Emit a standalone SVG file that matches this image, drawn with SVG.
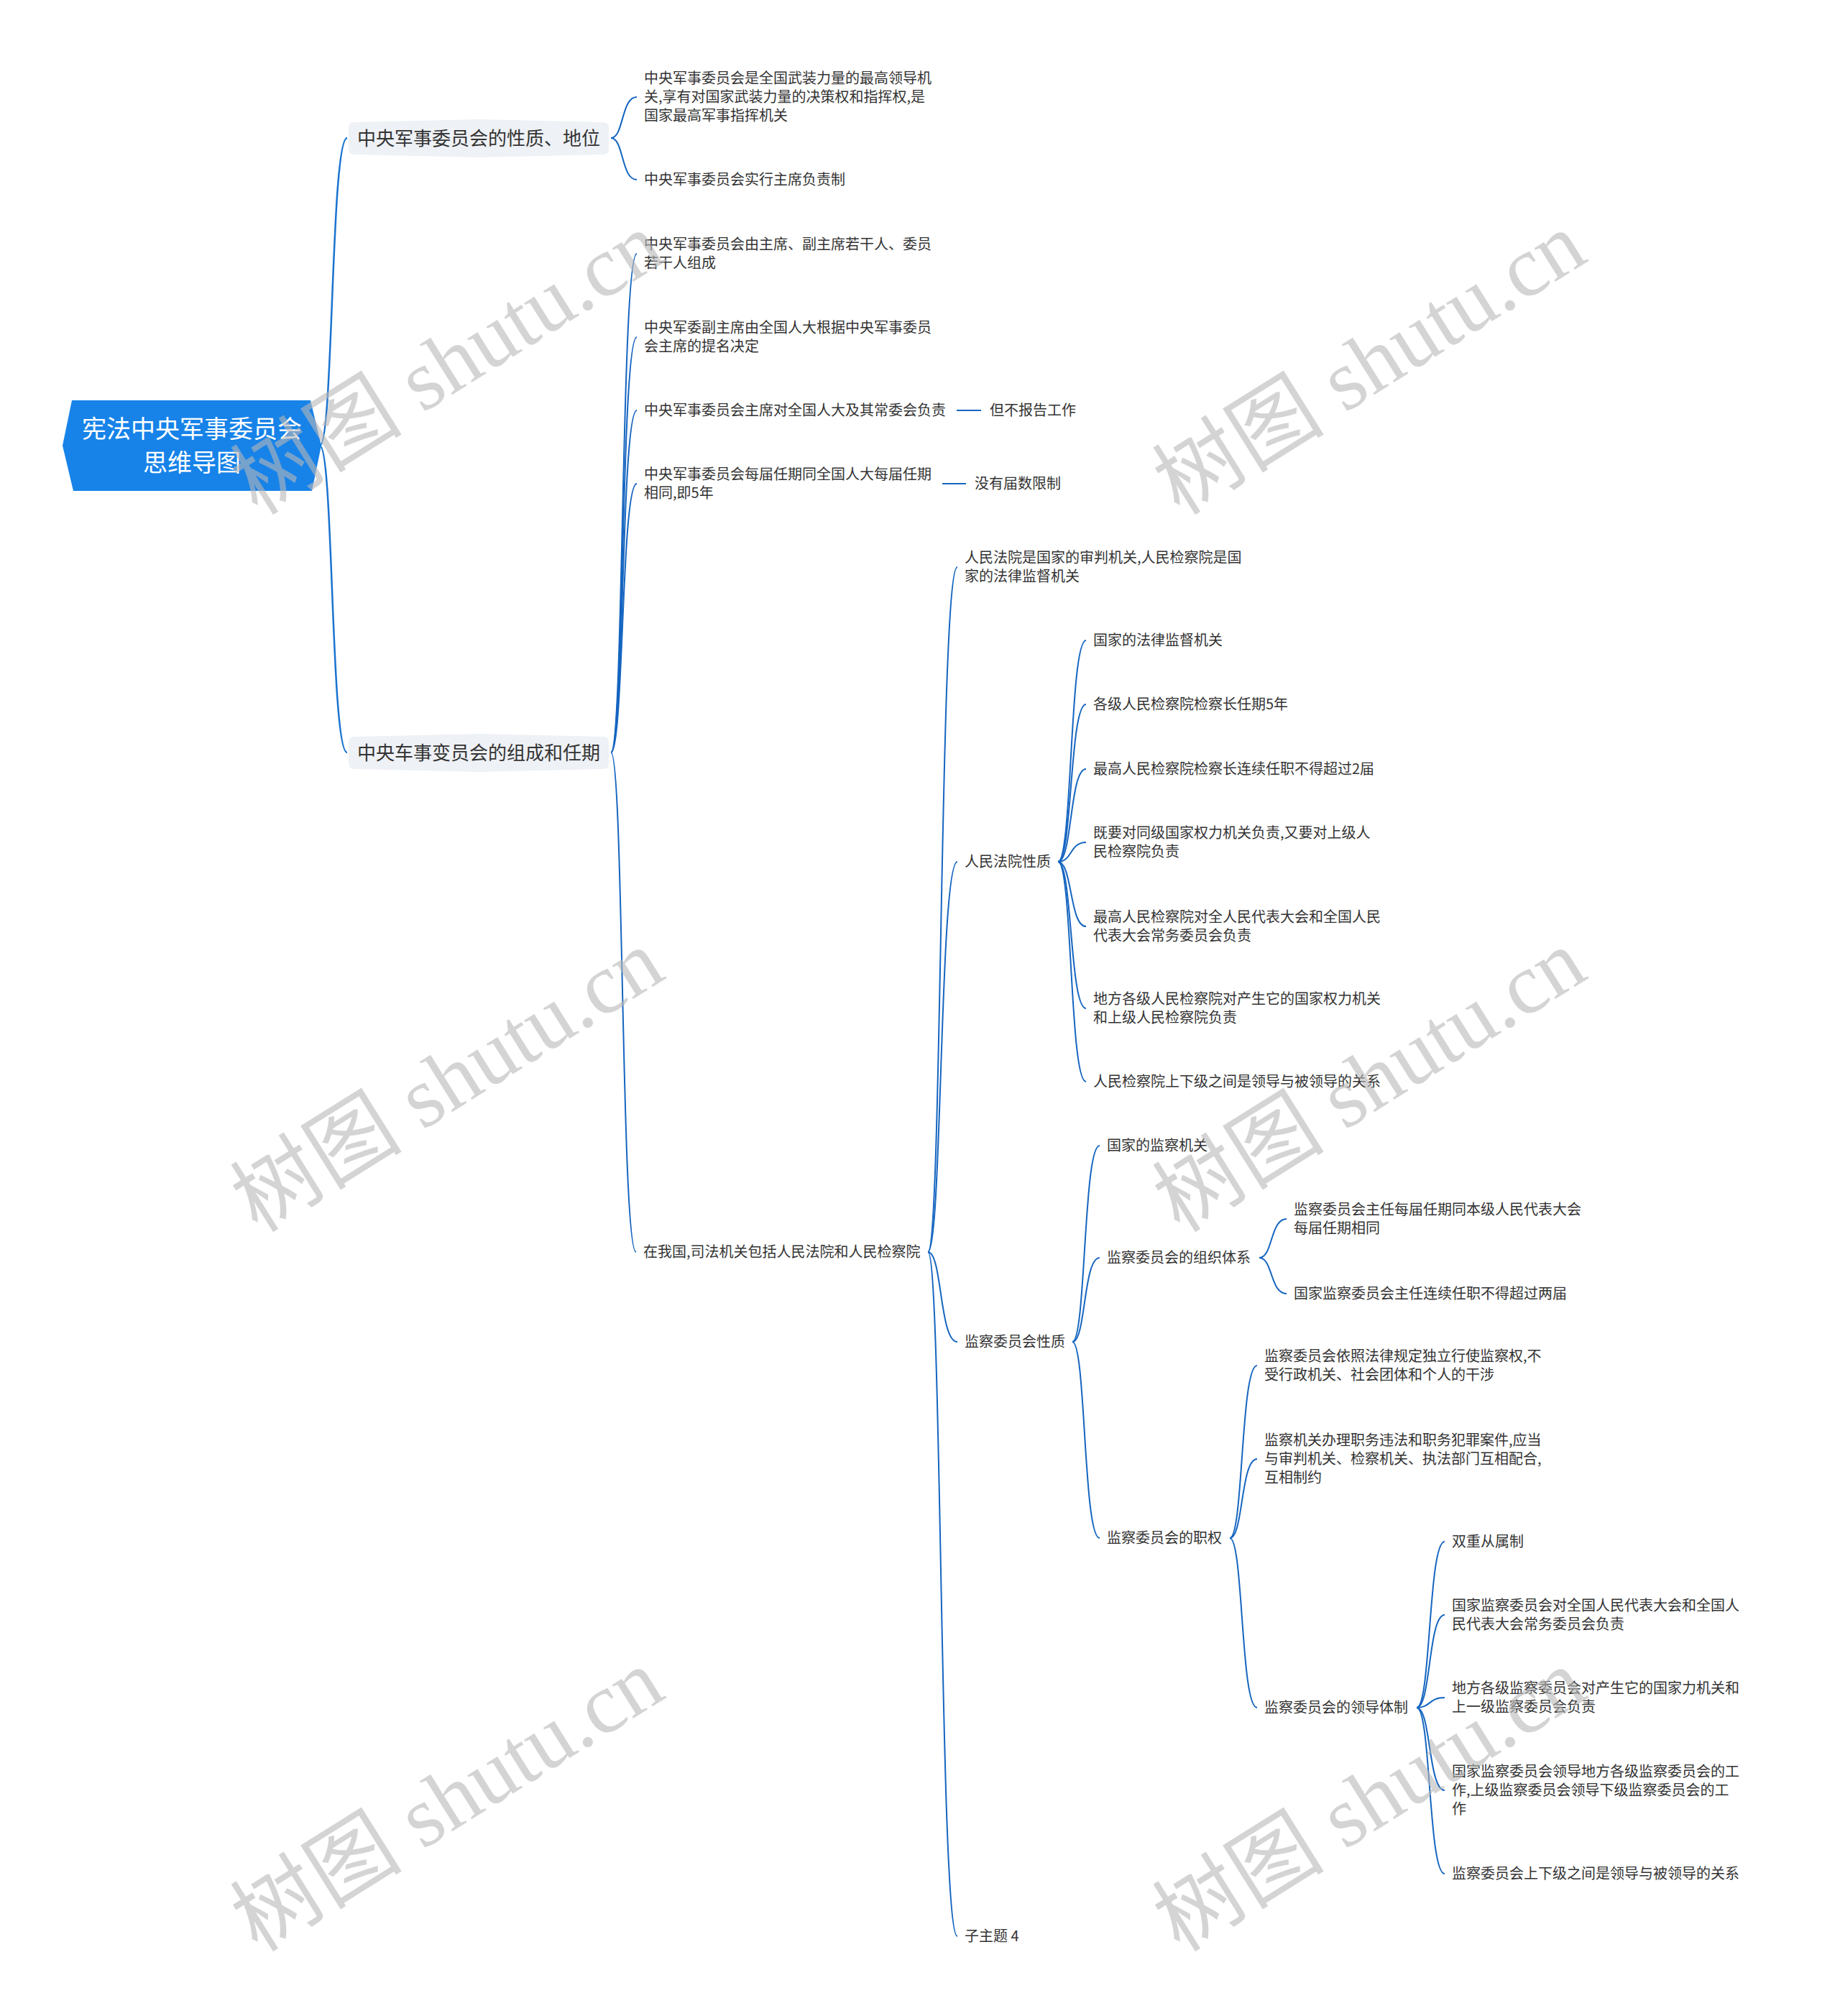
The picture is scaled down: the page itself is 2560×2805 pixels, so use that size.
<svg xmlns="http://www.w3.org/2000/svg" width="2560" height="2805" viewBox="0 0 2560 2805">
<style>
.t{font-family:"Noto Sans CJK SC","Liberation Sans",sans-serif;font-size:20px;fill:#333}
.l1{font-family:"Noto Sans CJK SC","Liberation Sans",sans-serif;font-size:26px;fill:#333}
.rt{font-family:"Noto Sans CJK SC","Liberation Sans",sans-serif;font-size:34px;fill:#fff}
.c{fill:none;stroke:#1565c0;stroke-width:2}
.cr{fill:none;stroke:#1a73d0;stroke-width:2.5}
.wm{font-family:"Liberation Serif","Noto Sans CJK SC",serif;font-size:120px;fill:#b8b8b8;fill-opacity:0.6}
.nb{fill:#eef1f5}
</style>
<rect width="2560" height="2805" fill="#fff"/>
<g id="connectors">
<path class="cr" d="M445 620 C464 620 460 192 483 192"/>
<path class="cr" d="M445 620 C464 620 460 1047 483 1047"/>
<path class="c" d="M850 192 C868 192 864 135 886 135"/>
<path class="c" d="M850 192 C868 192 864 250 886 250"/>
<path class="c" d="M850 1047 C868 1047 864 353 886 353"/>
<path class="c" d="M850 1047 C868 1047 864 469 886 469"/>
<path class="c" d="M850 1047 C868 1047 864 571 886 571"/>
<path class="c" d="M850 1047 C868 1047 864 673 886 673"/>
<path class="c" d="M850 1047 C868 1047 864 1742 885 1742"/>
<path class="c" d="M1331 571 L1365 571"/>
<path class="c" d="M1311 673 L1344 673"/>
<path class="c" d="M1291 1742 C1311 1742 1307 789 1332 789"/>
<path class="c" d="M1291 1742 C1311 1742 1307 1199 1332 1199"/>
<path class="c" d="M1291 1742 C1311 1742 1307 1867 1332 1867"/>
<path class="c" d="M1291 1742 C1311 1742 1307 2694 1332 2694"/>
<path class="c" d="M1472 1199 C1492 1199 1488 891 1511 891"/>
<path class="c" d="M1472 1199 C1492 1199 1488 980 1511 980"/>
<path class="c" d="M1472 1199 C1492 1199 1488 1070 1511 1070"/>
<path class="c" d="M1472 1199 C1492 1199 1488 1172 1511 1172"/>
<path class="c" d="M1472 1199 C1492 1199 1488 1289 1511 1289"/>
<path class="c" d="M1472 1199 C1492 1199 1488 1403 1511 1403"/>
<path class="c" d="M1472 1199 C1492 1199 1488 1505 1511 1505"/>
<path class="c" d="M1492 1867 C1511 1867 1507 1594 1530 1594"/>
<path class="c" d="M1492 1867 C1511 1867 1507 1750 1530 1750"/>
<path class="c" d="M1492 1867 C1511 1867 1507 2140 1530 2140"/>
<path class="c" d="M1752 1750 C1771 1750 1767 1696 1790 1696"/>
<path class="c" d="M1752 1750 C1771 1750 1767 1800 1790 1800"/>
<path class="c" d="M1711 2140 C1730 2140 1726 1900 1749 1900"/>
<path class="c" d="M1711 2140 C1730 2140 1726 2030 1749 2030"/>
<path class="c" d="M1711 2140 C1730 2140 1726 2376 1749 2376"/>
<path class="c" d="M1971 2376 C1991 2376 1987 2145 2010 2145"/>
<path class="c" d="M1971 2376 C1991 2376 1987 2247 2010 2247"/>
<path class="c" d="M1971 2376 C1991 2376 1987 2362 2010 2362"/>
<path class="c" d="M1971 2376 C1991 2376 1987 2491 2010 2491"/>
<path class="c" d="M1971 2376 C1991 2376 1987 2607 2010 2607"/>
</g>
<g id="root">
<polygon points="100,557 432,557 447,620 434,683 102,683 87,620" fill="#1783e9"/>
<text class="rt" x="267" y="609" text-anchor="middle">宪法中央军事委员会</text>
<text class="rt" x="267" y="656" text-anchor="middle">思维导图</text>
</g>
<g id="n1">
<path class="nb" d="M493 170 L666 166 L839 170 Q847 170 847 178 L847 207 Q847 215 839 215 L666 219 L493 215 Q485 215 485 207 L485 178 Q485 170 493 170 Z"/>
<text class="l1" x="497" y="202">中央军事委员会的性质、地位</text>
</g>
<g id="n2">
<path class="nb" d="M493 1025 L666 1021 L839 1025 Q847 1025 847 1033 L847 1062 Q847 1070 839 1070 L666 1074 L493 1070 Q485 1070 485 1062 L485 1033 Q485 1025 493 1025 Z"/>
<text class="l1" x="497" y="1057">中央车事变员会的组成和任期</text>
</g>
<g id="a1"><text class="t" x="896" y="116">中央军事委员会是全国武装力量的最高领导机<tspan x="896" dy="26">关,享有对国家武装力量的决策权和指挥权,是</tspan><tspan x="896" dy="26">国家最高军事指挥机关</tspan></text></g>
<g id="a2"><text class="t" x="896" y="257">中央军事委员会实行主席负责制</text></g>
<g id="b1"><text class="t" x="896" y="347">中央军事委员会由主席、副主席若干人、委员<tspan x="896" dy="26">若干人组成</tspan></text></g>
<g id="b2"><text class="t" x="896" y="463">中央军委副主席由全国人大根据中央军事委员<tspan x="896" dy="26">会主席的提名决定</tspan></text></g>
<g id="b3"><text class="t" x="896" y="578">中央军事委员会主席对全国人大及其常委会负责</text></g>
<g id="b3a"><text class="t" x="1377" y="578">但不报告工作</text></g>
<g id="b4"><text class="t" x="896" y="667">中央军事委员会每届任期同全国人大每届任期<tspan x="896" dy="26">相同,即5年</tspan></text></g>
<g id="b4a"><text class="t" x="1356" y="680">没有届数限制</text></g>
<g id="c"><text class="t" x="895" y="1749">在我国,司法机关包括人民法院和人民检察院</text></g>
<g id="d1"><text class="t" x="1342" y="783">人民法院是国家的审判机关,人民检察院是国<tspan x="1342" dy="26">家的法律监督机关</tspan></text></g>
<g id="d2"><text class="t" x="1342" y="1206">人民法院性质</text></g>
<g id="d3"><text class="t" x="1342" y="1874">监察委员会性质</text></g>
<g id="d4"><text class="t" x="1342" y="2701">子主题 4</text></g>
<g id="e1"><text class="t" x="1521" y="898">国家的法律监督机关</text></g>
<g id="e2"><text class="t" x="1521" y="987">各级人民检察院检察长任期5年</text></g>
<g id="e3"><text class="t" x="1521" y="1077">最高人民检察院检察长连续任职不得超过2届</text></g>
<g id="e4"><text class="t" x="1521" y="1166">既要对同级国家权力机关负责,又要对上级人<tspan x="1521" dy="26">民检察院负责</tspan></text></g>
<g id="e5"><text class="t" x="1521" y="1283">最高人民检察院对全人民代表大会和全国人民<tspan x="1521" dy="26">代表大会常务委员会负责</tspan></text></g>
<g id="e6"><text class="t" x="1521" y="1397">地方各级人民检察院对产生它的国家权力机关<tspan x="1521" dy="26">和上级人民检察院负责</tspan></text></g>
<g id="e7"><text class="t" x="1521" y="1512">人民检察院上下级之间是领导与被领导的关系</text></g>
<g id="f1"><text class="t" x="1540" y="1601">国家的监察机关</text></g>
<g id="f2"><text class="t" x="1540" y="1757">监察委员会的组织体系</text></g>
<g id="f3"><text class="t" x="1540" y="2147">监察委员会的职权</text></g>
<g id="g1"><text class="t" x="1800" y="1690">监察委员会主任每届任期同本级人民代表大会<tspan x="1800" dy="26">每届任期相同</tspan></text></g>
<g id="g2"><text class="t" x="1800" y="1807">国家监察委员会主任连续任职不得超过两届</text></g>
<g id="h1"><text class="t" x="1759" y="1894">监察委员会依照法律规定独立行使监察权,不<tspan x="1759" dy="26">受行政机关、社会团体和个人的干涉</tspan></text></g>
<g id="h2"><text class="t" x="1759" y="2011">监察机关办理职务违法和职务犯罪案件,应当<tspan x="1759" dy="26">与审判机关、检察机关、执法部门互相配合,</tspan><tspan x="1759" dy="26">互相制约</tspan></text></g>
<g id="h3"><text class="t" x="1759" y="2383">监察委员会的领导体制</text></g>
<g id="i1"><text class="t" x="2020" y="2152">双重从属制</text></g>
<g id="i2"><text class="t" x="2020" y="2241">国家监察委员会对全国人民代表大会和全国人<tspan x="2020" dy="26">民代表大会常务委员会负责</tspan></text></g>
<g id="i3"><text class="t" x="2020" y="2356">地方各级监察委员会对产生它的国家力机关和<tspan x="2020" dy="26">上一级监察委员会负责</tspan></text></g>
<g id="i4"><text class="t" x="2020" y="2472">国家监察委员会领导地方各级监察委员会的工<tspan x="2020" dy="26">作,上级监察委员会领导下级监察委员会的工</tspan><tspan x="2020" dy="26">作</tspan></text></g>
<g id="i5"><text class="t" x="2020" y="2614">监察委员会上下级之间是领导与被领导的关系</text></g>
<g id="watermarks">
<text class="wm" text-anchor="middle" transform="translate(644,540) rotate(-32)">树图 shutu.cn</text>
<text class="wm" text-anchor="middle" transform="translate(1927,540) rotate(-32)">树图 shutu.cn</text>
<text class="wm" text-anchor="middle" transform="translate(644,1538) rotate(-32)">树图 shutu.cn</text>
<text class="wm" text-anchor="middle" transform="translate(1927,1538) rotate(-32)">树图 shutu.cn</text>
<text class="wm" text-anchor="middle" transform="translate(644,2539) rotate(-32)">树图 shutu.cn</text>
<text class="wm" text-anchor="middle" transform="translate(1927,2539) rotate(-32)">树图 shutu.cn</text>
</g>
</svg>
